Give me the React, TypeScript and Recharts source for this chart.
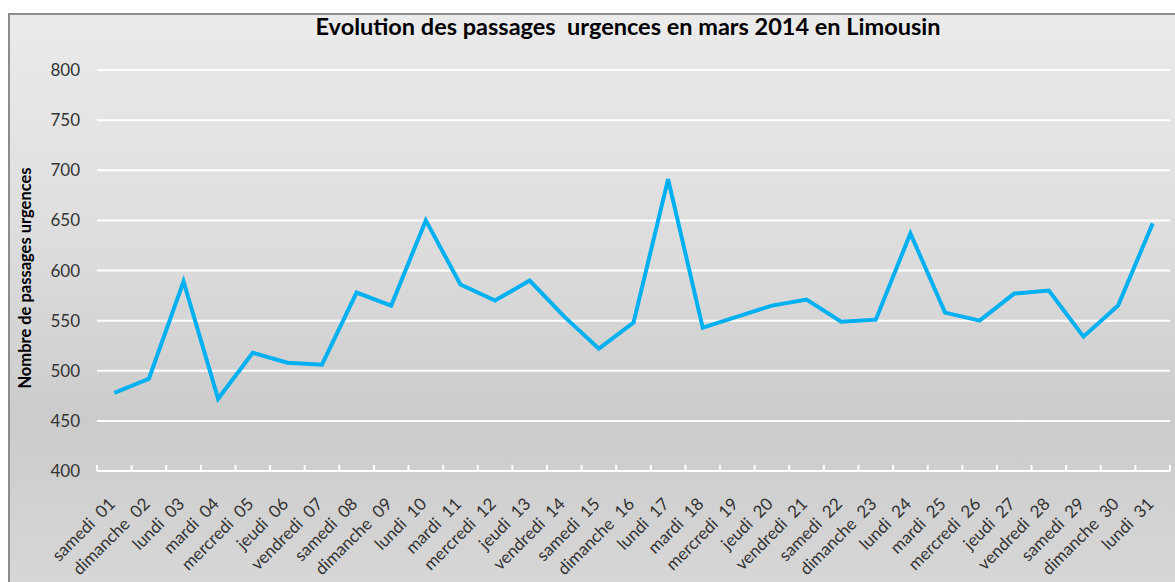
import React from 'react';
import { LineChart, Line, XAxis, YAxis, CartesianGrid } from 'recharts';

const days = [
  'samedi  01', 'dimanche  02', 'lundi  03', 'mardi  04', 'mercredi  05', 'jeudi  06', 'vendredi  07',
  'samedi  08', 'dimanche  09', 'lundi  10', 'mardi  11', 'mercredi  12', 'jeudi  13', 'vendredi  14',
  'samedi  15', 'dimanche  16', 'lundi  17', 'mardi  18', 'mercredi  19', 'jeudi  20', 'vendredi  21',
  'samedi  22', 'dimanche  23', 'lundi  24', 'mardi  25', 'mercredi  26', 'jeudi  27', 'vendredi  28',
  'samedi  29', 'dimanche  30', 'lundi  31',
];

const passages = [
  478, 492, 589, 472, 518, 508, 506, 578, 565, 650, 586, 570, 590, 554, 522, 548,
  691, 543, 554, 565, 571, 549, 551, 637, 558, 550, 577, 580, 534, 565, 647,
];

const yTicks = [400, 450, 500, 550, 600, 650, 700, 750, 800];

const data = days.map((d, i) => ({ day: d, value: passages[i] }));

const FONT = 'Lato, "Open Sans", sans-serif';

const DayTick = (props: any) => {
  const { x, y, payload, index } = props;
  const half = 17.3;
  const axisY = y - 8;
  const isLast = index === days.length - 1;
  const tx = x + 2;
  const ty = y + 26;
  return (
    <g>
      <line x1={x - half} y1={axisY - 6} x2={x - half} y2={axisY} stroke="#ffffff" strokeWidth={2} />
      {isLast && <line x1={x + half} y1={axisY - 6} x2={x + half} y2={axisY} stroke="#ffffff" strokeWidth={2} />}
      <text
        x={tx}
        y={ty}
        textAnchor="end"
        transform={`rotate(-45, ${tx}, ${ty})`}
        fontSize={17}
        fontFamily={FONT}
        fill="#333333"
      >
        {String(payload.value).replace('  ', '\u00a0\u00a0')}
      </text>
    </g>
  );
};

export default function App() {
  return (
    <div style={{ position: 'absolute', left: 0, top: 0, width: 1175, height: 582, background: '#ffffff', overflow: 'hidden' }}>
      <div
        style={{
          position: 'absolute',
          left: 8,
          top: 13,
          width: 1200,
          height: 600,
          borderLeft: '2px solid #8c8c8c',
          borderTop: '2px solid #8c8c8c',
          background: 'linear-gradient(to bottom, #ebebeb 0%, #dcdcdc 40%, #cbcbcb 68%, #d9d9d9 100%)',
        }}
      />
      <div
        style={{
          position: 'absolute',
          left: 0,
          top: 12,
          width: 1256,
          textAlign: 'center',
          fontFamily: FONT,
          fontWeight: 'bold',
          fontSize: 23.5,
          color: '#000000',
          whiteSpace: 'pre',
        }}
      >
        {'Evolution des passages  urgences en mars 2014 en Limousin'}
      </div>
      <div
        style={{
          position: 'absolute',
          left: 25,
          top: 278,
          transform: 'translate(-50%, -50%) rotate(-90deg)',
          fontFamily: FONT,
          fontWeight: 'bold',
          fontSize: 16.5,
          color: '#000000',
          whiteSpace: 'nowrap',
        }}
      >
        Nombre de passages urgences
      </div>
      <div style={{ position: 'absolute', left: 0, top: 0 }}>
        <LineChart width={1175} height={582} data={data} margin={{ top: 70, right: 5, bottom: 11, left: 0 }}>
          <CartesianGrid vertical={false} stroke="#ffffff" strokeWidth={2} />
          <XAxis
            dataKey="day"
            interval={0}
            height={100}
            padding={{ left: 17.3, right: 17.3 }}
            axisLine={{ stroke: '#ffffff', strokeWidth: 2 }}
            tickLine={false}
            tick={<DayTick />}
          />
          <YAxis
            width={97}
            domain={[400, 800]}
            ticks={yTicks}
            axisLine={false}
            tickLine={false}
            tickSize={0}
            tickMargin={17}
            tick={{ fontSize: 17, fontFamily: FONT, fill: '#333333' }}
          />
          <Line
            type="linear"
            dataKey="value"
            stroke="#00b0f0"
            strokeWidth={4}
            dot={false}
            isAnimationActive={false}
          />
        </LineChart>
      </div>
    </div>
  );
}
